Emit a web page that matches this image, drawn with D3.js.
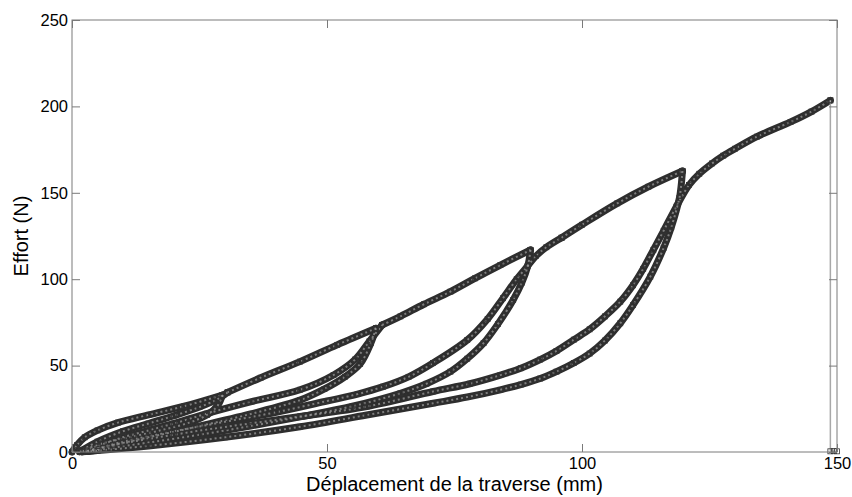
<!DOCTYPE html>
<html>
<head>
<meta charset="utf-8">
<script src="https://cdn.jsdelivr.net/npm/d3@7/dist/d3.min.js"></script>
<style>
  body { margin: 0; background: #fff; }
  text { font-family: Arial, "Liberation Sans", sans-serif; }
</style>
</head>
<body>
<div id="chart"></div>
<script>
// tick values
const xTicks = [0, 50, 100, 150];
const yTicks = [0, 50, 100, 150, 200, 250];

// [deplacement (mm), effort (N)], in test order
const envelope1 = [[0, 0], [1, 4], [2.5, 8.5], [5, 12.5], [9, 17], [15, 21.5], [22, 26.5], [29.5, 33]];
const unload30 = [[29.5, 33], [28.6, 27], [26.5, 21.5], [23, 17], [18, 13], [12, 9], [6, 5], [2, 1]];
const reload30 = [[2, 1], [5, 6], [10, 12], [15, 16.5], [20, 21], [25, 26], [28.5, 30.5], [30.5, 34.5]];
const envelope2 = [[30.5, 34.5], [37, 43], [44.7, 52.3], [52, 62], [59.6, 71.6]];
const unload60 = [[59.6, 71.6], [58.6, 63], [56.5, 51], [53.5, 43.5], [49.5, 36.5], [44.7, 30], [35, 22], [25, 15], [15, 8.5], [8, 4], [3, 1], [1.5, 0.2]];
const reload60 = [[1.5, 0.2], [5, 3.5], [10, 8.5], [15, 12.5], [20, 16.5], [26.4, 22.2], [35, 29], [44.7, 36], [51.3, 44.6], [55.5, 53.5], [58.3, 64], [60.8, 73.5]];
const envelope3 = [[60.8, 73.5], [64.4, 78.5], [69, 85.5], [74.2, 92.8], [79, 100.5], [84, 108.2], [89.9, 116.9]];
const unload90 = [[89.9, 116.9], [89.4, 108], [88.2, 98], [86.5, 88], [83.5, 74], [80.7, 63], [77.5, 54], [74.2, 46.5], [69.5, 39.5], [64.4, 34], [55, 26.5], [45, 20.5], [35, 15], [25, 10], [15, 5.5], [7, 2], [3, 0.3]];
const reload90 = [[3, 0.3], [10, 6], [20, 12], [30, 17.5], [40, 23], [50, 29.5], [56, 33.5], [61, 37.8], [66, 43.5], [70.8, 51.5], [77.5, 64.8], [81.5, 77], [84.5, 89], [87.2, 100], [89.3, 107.5], [91, 113.5], [93, 118.5], [96, 124]];
const envelope4 = [[96, 124], [100, 131.5], [106.9, 143.9], [113, 153.5], [119.7, 162.6]];
const unload120 = [[119.7, 162.6], [119.6, 159], [119.4, 153], [119.1, 147], [117.5, 130], [116, 118], [113.4, 101.5], [110, 85], [107.5, 74.5], [104.5, 64.5], [101.5, 57], [98.4, 51.5], [95, 46.5], [91.8, 42.5], [88, 39], [84, 36], [77.5, 31.8], [70.8, 28.2], [57.8, 21.4], [44.7, 14.6], [30, 8.5], [15, 3.5], [5, 0.8], [2, 0.1]];
const reload120 = [[2, 0.1], [10, 5], [20, 10], [30, 14.5], [44.7, 20.5], [57.8, 26.3], [70.8, 35], [78, 39.5], [84, 44.5], [88, 48.5], [91.8, 53.5], [95, 58.5], [98.4, 65], [101.5, 71], [104.5, 78.5], [107.5, 87], [110, 96.5], [112, 106], [114, 117], [116, 128], [118.5, 142], [121, 154.5], [123, 161], [125.5, 167], [127.7, 171.5], [130, 175.5], [134.3, 182.5], [140.9, 191], [145, 197], [148.7, 203.5]];
const rupture = [[148.7, 203.5], [148.7, 0.4], [149.4, 0.5], [150, 0.4]];

const segments = [envelope1, unload30, reload30, envelope2, unload60, reload60,
    envelope3, unload90, reload90, envelope4, unload120, reload120];

const width = 852;
const height = 497;
const margin = {top: 20, left: 72, right: 15, bottom: 45};

const x = d3.scaleLinear().domain([0, 150]).range([margin.left, width - margin.right]);
const y = d3.scaleLinear().domain([0, 250]).range([height - margin.bottom, margin.top]);

const svg = d3.select("#chart").append("svg")
    .attr("width", width)
    .attr("height", height);

const axisColor = "#7a7a7a";

// data bands (dense square markers in the original)
const line = d3.line()
    .x(d => x(d[0]))
    .y(d => y(d[1]))
    .curve(d3.curveCatmullRom.alpha(0.5));

const plot = svg.append("g");

segments.forEach(seg => {
    plot.append("path")
        .attr("d", line(seg))
        .attr("fill", "none")
        .attr("stroke", "#2e2e2e")
        .attr("stroke-width", 7)
        .attr("stroke-linejoin", "round")
        .attr("stroke-linecap", "round");
});
segments.forEach(seg => {
    plot.append("path")
        .attr("d", line(seg))
        .attr("fill", "none")
        .attr("stroke", "#9a9a9a")
        .attr("stroke-width", 2)
        .attr("stroke-dasharray", "2 3")
        .attr("opacity", 0.75);
});

// rupture drop
plot.append("path")
    .attr("d", d3.line().x(d => x(d[0])).y(d => y(d[1]))(rupture))
    .attr("fill", "none")
    .attr("stroke", "#a8a8a8")
    .attr("stroke-width", 1.5);

// square markers on read points
const allPoints = segments.flat().concat(rupture);
plot.selectAll("rect.mk")
    .data(allPoints)
    .enter()
    .append("rect")
    .attr("class", "mk")
    .attr("x", d => x(d[0]) - 2.5)
    .attr("y", d => y(d[1]) - 2.5)
    .attr("width", 5)
    .attr("height", 5)
    .attr("fill", "none")
    .attr("stroke", "#333")
    .attr("stroke-width", 0.8);

// box
svg.append("rect")
    .attr("x", x(0))
    .attr("y", y(250))
    .attr("width", x(150) - x(0))
    .attr("height", y(0) - y(250))
    .attr("fill", "none")
    .attr("stroke", axisColor)
    .attr("stroke-width", 1);

// axes, ticks inward on all sides
const styleAxis = g => {
    g.select(".domain").remove();
    g.selectAll(".tick line").attr("stroke", axisColor);
    g.selectAll(".tick text").attr("fill", "#000").style("font-size", "16.5px");
};

svg.append("g")
    .attr("transform", `translate(0,${y(0)})`)
    .call(d3.axisBottom(x).tickValues(xTicks).tickFormat(d3.format("d")).tickSize(-8).tickPadding(5))
    .call(styleAxis);

svg.append("g")
    .attr("transform", `translate(0,${y(250)})`)
    .call(d3.axisTop(x).tickValues(xTicks).tickFormat("").tickSize(-8))
    .call(styleAxis);

svg.append("g")
    .attr("transform", `translate(${x(0)},0)`)
    .call(d3.axisLeft(y).tickValues(yTicks).tickFormat(d3.format("d")).tickSize(-8).tickPadding(4))
    .call(styleAxis);

svg.append("g")
    .attr("transform", `translate(${x(150)},0)`)
    .call(d3.axisRight(y).tickValues(yTicks).tickFormat("").tickSize(-8))
    .call(styleAxis);

// axis titles
svg.append("text")
    .attr("x", (x(0) + x(150)) / 2)
    .attr("y", 491)
    .attr("text-anchor", "middle")
    .style("font-size", "20px")
    .text("Déplacement de la traverse (mm)");

svg.append("text")
    .attr("transform", `translate(28,${(y(0) + y(250)) / 2}) rotate(-90)`)
    .attr("text-anchor", "middle")
    .style("font-size", "20px")
    .text("Effort (N)");
</script>
</body>
</html>
